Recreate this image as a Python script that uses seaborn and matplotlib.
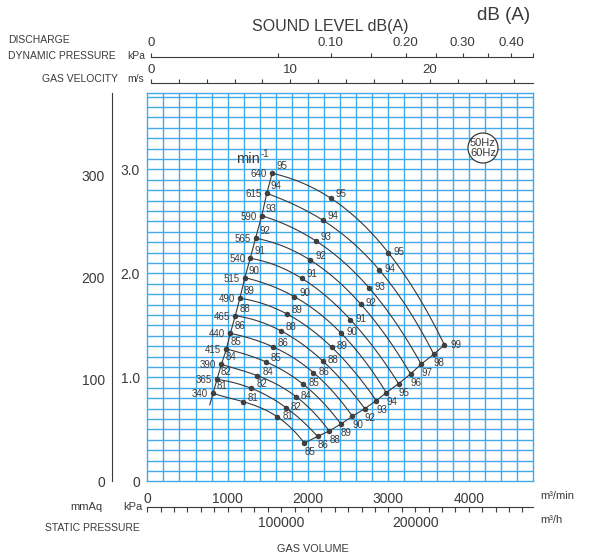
import numpy as np
import pandas as pd
import matplotlib
matplotlib.use('Agg')
import matplotlib.pyplot as plt
from matplotlib.patches import Ellipse
import seaborn as sns

# fan speeds (min-1) and sound levels dB(A)
rpm = [340, 365, 390, 415, 440, 465, 490, 515, 540, 565, 590, 615, 640]
db_left = [81, 82, 84, 85, 86, 88, 89, 90, 91, 92, 93, 94, 95]
db_end = [85, 86, 88, 89, 90, 92, 93, 94, 95, 96, 97, 98, 99]

# four points on each speed curve: gas volume m3/min, static pressure kPa
q1 = [818, 867, 922, 984, 1033, 1095, 1152, 1214, 1281, 1347, 1425, 1487, 1554]
p1 = [0.846, 0.980, 1.124, 1.272, 1.423, 1.592, 1.760, 1.958, 2.144, 2.337, 2.554, 2.769, 2.962]
q2 = [1190, 1294, 1368, 1471, 1561, 1665, 1740, 1830, 1921, 2028, 2099, 2181, 2285]
p2 = [0.766, 0.894, 1.016, 1.150, 1.294, 1.446, 1.608, 1.775, 1.952, 2.127, 2.311, 2.512, 2.721]
q3 = [1616, 1727, 1851, 1942, 2066, 2181, 2297, 2413, 2527, 2657, 2760, 2887, 2999]
p3 = [0.621, 0.708, 0.814, 0.932, 1.046, 1.159, 1.288, 1.423, 1.555, 1.703, 1.860, 2.032, 2.199]
q4 = [1954, 2119, 2264, 2409, 2553, 2706, 2850, 2974, 3128, 3276, 3408, 3565, 3698]
p4 = [0.368, 0.431, 0.484, 0.551, 0.625, 0.699, 0.775, 0.852, 0.939, 1.032, 1.126, 1.222, 1.311]

# lower end of the speed line
line_start_q, line_start_p = 777, 0.734

# axis scales
q_ticks = [0, 1000, 2000, 3000, 4000]
kpa_ticks = [0, 1.0, 2.0, 3.0]
kpa_labels = ['0', '1.0', '2.0', '3.0']
mmaq_labels = [0, 100, 200, 300]
m3h_labels = [100000, 200000]
vel_labels = [0, 10, 20]
pd_labels = [0, 0.10, 0.20, 0.30, 0.40]
pd_label_text = ['0', '0.10', '0.20', '0.30', '0.40']

W, H = 595, 554
BLUE = '#42aae8'
INK = '#3a3a3a'

sns.set_theme(style='white')
plt.rcParams['font.family'] = ['Liberation Sans', 'DejaVu Sans']

fig = plt.figure(figsize=(W / 100, H / 100), dpi=100)
fig.patch.set_facecolor('white')


def box(x0, y0, x1, y1):
    return [x0 / W, 1 - y1 / H, max((x1 - x0) / W, 1e-4), max((y1 - y0) / H, 1e-4)]


def ftext(x, y, s, **kw):
    fig.text(x / W, 1 - y / H, s, color=INK, **kw)


# main chart
ax = fig.add_axes(box(147.3, 93, 533, 481.3))
ymax = (481.3 - 93) / 104
ax.set_xlim(0, 4800)
ax.set_ylim(0, ymax)
ax.set_xticks(q_ticks)
ax.set_xticklabels([str(v) for v in q_ticks])
ax.set_yticks(kpa_ticks)
ax.set_yticklabels(kpa_labels)
ax.set_yticks(np.arange(0, ymax, 0.1), minor=True)
ax.grid(False)
# blue graph paper
ax.vlines(np.arange(200, 4800, 200), 0, ymax, color=BLUE, lw=1.0, zorder=1)
ax.hlines(np.arange(0.1, ymax, 0.1), 0, 4800, color=BLUE, lw=1.0, zorder=1)
for s in ax.spines.values():
    s.set_color(BLUE)
    s.set_linewidth(1.0)
ax.tick_params(axis='x', which='major', direction='out', length=3, width=0.9,
               color=BLUE, labelcolor=INK, labelsize=10, pad=5)
ax.tick_params(axis='y', which='both', direction='out', length=2.2, width=0.9,
               color=BLUE, labelcolor=INK, labelsize=10, pad=3)
ax.tick_params(axis='y', which='minor', labelleft=False)

LINE = '#383838'
# speed curves
for i in range(len(rpm)):
    qs = [q1[i], q2[i], q3[i], q4[i]]
    ps = [p1[i], p2[i], p3[i], p4[i]]
    coef = np.polyfit(qs, ps, 3)
    qq = np.linspace(q1[i], q4[i], 80)
    ax.plot(qq, np.polyval(coef, qq), color=LINE, lw=0.8, zorder=3)

left_line = pd.DataFrame({'q': [line_start_q] + q1, 'p': [line_start_p] + p1})
sns.lineplot(data=left_line, x='q', y='p', sort=False, ax=ax, color=LINE, lw=0.8, zorder=3)
end_line = pd.DataFrame({'q': q4, 'p': p4})
sns.lineplot(data=end_line, x='q', y='p', sort=False, ax=ax, color=LINE, lw=0.8, zorder=3)

pts = pd.DataFrame({'q': q1 + q2 + q3 + q4, 'p': p1 + p2 + p3 + p4})
sns.scatterplot(data=pts, x='q', y='p', ax=ax, s=13, color='#404040',
                edgecolor='#222222', linewidth=0.3, zorder=4)
ax.set_xlabel('')
ax.set_ylabel('')

lab = dict(fontsize=7, color=INK, textcoords='offset pixels', zorder=5)
for i in range(len(rpm)):
    ax.annotate(str(rpm[i]), (q1[i], p1[i]), xytext=(-5, -1), ha='right', va='center', **lab)
    ax.annotate(str(db_left[i]), (q1[i], p1[i]), xytext=(4, 2), ha='left', va='bottom', **lab)
    ax.annotate(str(db_left[i]), (q2[i], p2[i]), xytext=(5, 4), ha='left', va='center', **lab)
    ax.annotate(str(db_left[i]), (q3[i], p3[i]), xytext=(5, 1), ha='left', va='center', **lab)
    if i == len(rpm) - 1:
        ax.annotate(str(db_end[i]), (q4[i], p4[i]), xytext=(6, 0), ha='left', va='center', **lab)
    else:
        ax.annotate(str(db_end[i]), (q4[i], p4[i]), xytext=(0, -4), ha='left', va='top', **lab)

ax.text(1100, 3.10, 'min', fontsize=10.5, color=INK, ha='left', va='center')
ax.text(1415, 3.15, '-1', fontsize=7, color=INK, ha='left', va='center')

# 50Hz / 60Hz badge
cx, cy = 483, 148
fig.patches.append(Ellipse((cx / W, 1 - cy / H), 30 / W, 30 / H, transform=fig.transFigure,
                           facecolor='white', edgecolor=INK, lw=0.9, zorder=6))
ftext(cx, cy, '50Hz\n60Hz', fontsize=8, ha='center', va='center', linespacing=1.0, zorder=7)

# static pressure in mmAq
ax_mm = fig.add_axes(box(111.7, 93, 111.7, 481.3))
ax_mm.set_ylim(0, ymax * 101.97)
ax_mm.set_yticks(np.arange(0, ymax * 101.97, 20), minor=True)
ax_mm.set_yticks(mmaq_labels)
ax_mm.set_xticks([])
for k, s in ax_mm.spines.items():
    s.set_visible(k == 'left')
ax_mm.spines['left'].set_color(INK)
ax_mm.spines['left'].set_linewidth(0.8)
ax_mm.tick_params(axis='y', which='both', direction='out', length=2.9, width=0.8,
                  color=INK, labelcolor=INK, labelsize=10, pad=2)
ax_mm.patch.set_alpha(0)

# gas volume in m3/h
ax_h = fig.add_axes(box(147.3, 507.5, 533, 507.5))
ax_h.set_xlim(0, 4800 * 60)
ax_h.set_xticks(np.arange(0, 280001, 10000), minor=True)
ax_h.set_xticks(m3h_labels)
ax_h.set_xticklabels([str(v) for v in m3h_labels])
ax_h.set_yticks([])
for k, s in ax_h.spines.items():
    s.set_visible(k == 'top')
ax_h.spines['top'].set_color(INK)
ax_h.spines['top'].set_linewidth(0.8)
ax_h.tick_params(axis='x', which='both', direction='in', length=3.6, width=0.8, top=True,
                 bottom=False, labeltop=False, labelbottom=True, color=INK,
                 labelcolor=INK, labelsize=10, pad=6)
ax_h.patch.set_alpha(0)


def top_scale(y, ticks, labels, texts):
    a = fig.add_axes(box(150.7, y, 533, y))
    a.set_xlim(0, (533 - 150.7) / 13.97)
    a.set_xticks(ticks, minor=True)
    a.set_xticks(labels)
    a.set_xticklabels(texts)
    a.set_yticks([])
    for k, s in a.spines.items():
        s.set_visible(k == 'bottom')
    a.spines['bottom'].set_color(INK)
    a.spines['bottom'].set_linewidth(0.8)
    a.xaxis.set_ticks_position('top')
    a.tick_params(axis='x', which='both', direction='out', length=2.9, width=0.8,
                  color=INK, labelcolor=INK, labelsize=9.5, pad=2.5)
    a.patch.set_alpha(0)
    return a


# gas velocity m/s
top_scale(83.3, np.arange(0, 27, 2), vel_labels, [str(v) for v in vel_labels])
# discharge dynamic pressure kPa (air 1.2 kg/m3)
pd_ticks = np.arange(0, 0.451, 0.05)
top_scale(56.7, np.sqrt(pd_ticks / 0.0006), np.sqrt(np.array(pd_labels) / 0.0006), pd_label_text)

# titles and axis names
ftext(330, 26, 'SOUND LEVEL dB(A)', fontsize=11.5, ha='center', va='center')
ftext(477, 15, 'dB (A)', fontsize=13.5, ha='left', va='center')
ftext(8, 40, 'DISCHARGE', fontsize=7.5, ha='left', va='center')
ftext(8, 56, 'DYNAMIC PRESSURE', fontsize=7.5, ha='left', va='center')
ftext(145, 56, 'kPa', fontsize=7.5, ha='right', va='center')
ftext(118, 79, 'GAS VELOCITY', fontsize=7.5, ha='right', va='center')
ftext(144, 79, 'm/s', fontsize=7.5, ha='right', va='center')
ftext(86, 507, 'mmAq', fontsize=8, ha='center', va='center')
ftext(143, 507, 'kPa', fontsize=8, ha='right', va='center')
ftext(92, 528, 'STATIC PRESSURE', fontsize=7.5, ha='center', va='center')
ftext(540, 496, 'm³/min', fontsize=8, ha='left', va='center')
ftext(540, 520, 'm³/h', fontsize=8, ha='left', va='center')
ftext(313, 549, 'GAS VOLUME', fontsize=7.8, ha='center', va='center')

fig.savefig('out.png', dpi=100, facecolor='white')
